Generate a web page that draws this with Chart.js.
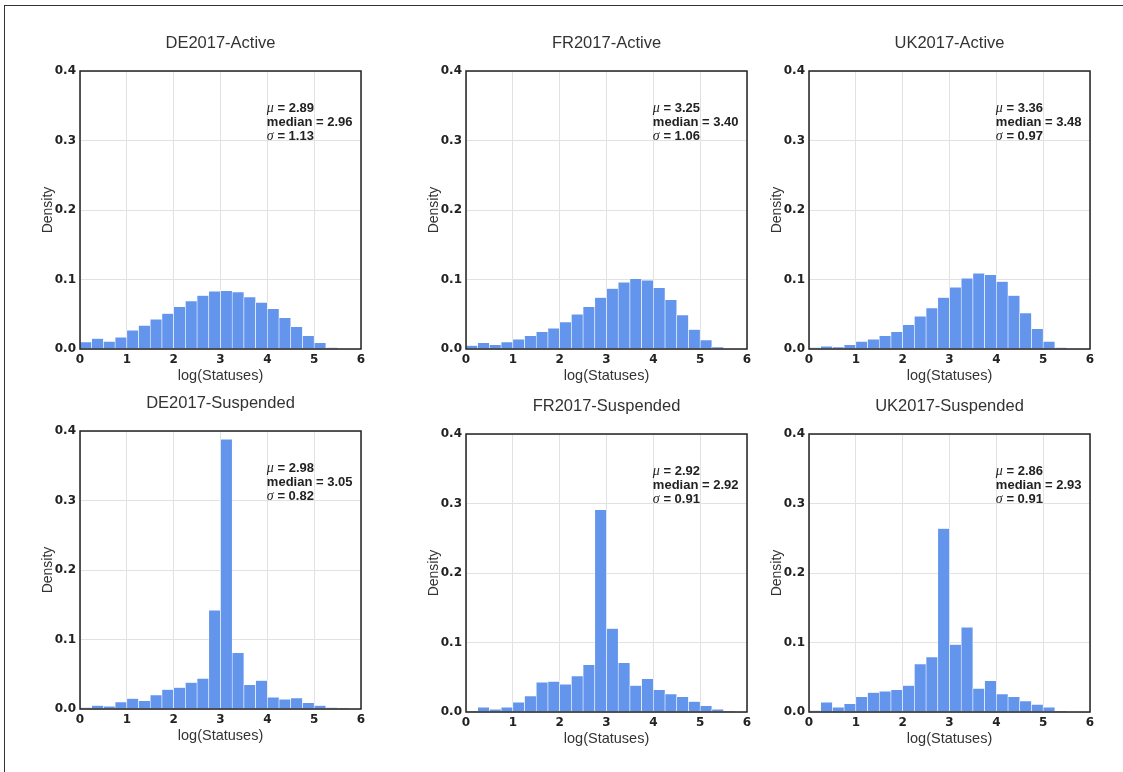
<!DOCTYPE html>
<html>
<head>
<meta charset="utf-8">
<script src="https://cdn.jsdelivr.net/npm/chart.js@4"></script>
<style>
  html, body { margin: 0; padding: 0; background: #fff; }
  body { width: 1123px; height: 772px; position: relative; overflow: hidden; }
  #frame { position: absolute; left: 4px; top: 5px; right: 0; bottom: 0;
           border-top: 1.5px solid #333; border-left: 1.5px solid #333; }
  canvas { position: absolute; }
  #deActive { left: 5px;   top: 0px; }
  #frActive { left: 391px; top: 0px; }
  #ukActive { left: 734px; top: 0px; }
  #deSusp   { left: 5px;   top: 360px; }
  #frSusp   { left: 391px; top: 363px; }
  #ukSusp   { left: 734px; top: 363px; }
</style>
</head>
<body>
<div id="frame"></div>
<canvas id="deActive" width="368" height="394"></canvas>
<canvas id="frActive" width="368" height="394"></canvas>
<canvas id="ukActive" width="368" height="394"></canvas>
<canvas id="deSusp" width="368" height="394"></canvas>
<canvas id="frSusp" width="368" height="394"></canvas>
<canvas id="ukSusp" width="368" height="394"></canvas>
<script>
// bin edges of the histograms, log(Statuses)
const binEdges = [0, 0.25, 0.5, 0.75, 1, 1.25, 1.5, 1.75, 2, 2.25, 2.5, 2.75, 3,
                  3.25, 3.5, 3.75, 4, 4.25, 4.5, 4.75, 5, 5.25, 5.5, 5.75, 6];
const xTicks = [0, 1, 2, 3, 4, 5, 6];
const yTicks = [0.0, 0.1, 0.2, 0.3, 0.4];

// densities per bin
const deActive = [0.010, 0.015, 0.011, 0.017, 0.027, 0.034, 0.043, 0.051, 0.061, 0.069, 0.077,
                  0.083, 0.084, 0.082, 0.075, 0.067, 0.058, 0.045, 0.032, 0.019, 0.009, 0.002];
const frActive = [0.005, 0.009, 0.006, 0.010, 0.014, 0.019, 0.025, 0.030, 0.039, 0.050, 0.061,
                  0.074, 0.087, 0.096, 0.101, 0.099, 0.088, 0.071, 0.049, 0.028, 0.013, 0.003];
const ukActive = [0.002, 0.004, 0.003, 0.006, 0.011, 0.014, 0.019, 0.025, 0.035, 0.047, 0.059,
                  0.074, 0.089, 0.102, 0.109, 0.107, 0.097, 0.077, 0.052, 0.029, 0.011, 0.002];
const deSusp = [0.002, 0.005, 0.004, 0.010, 0.015, 0.012, 0.020, 0.028, 0.031, 0.038, 0.044,
                0.142, 0.388, 0.081, 0.035, 0.041, 0.017, 0.014, 0.016, 0.009, 0.005, 0.002, 0.001];
const frSusp = [0.001, 0.007, 0.004, 0.007, 0.014, 0.023, 0.043, 0.044, 0.040, 0.052, 0.068,
                0.291, 0.120, 0.071, 0.038, 0.048, 0.032, 0.026, 0.022, 0.015, 0.009, 0.004, 0.001];
const ukSusp = [0.002, 0.014, 0.007, 0.012, 0.022, 0.028, 0.030, 0.032, 0.038, 0.069, 0.079,
                0.264, 0.097, 0.122, 0.034, 0.045, 0.026, 0.022, 0.016, 0.011, 0.007, 0.001];

const titles = ['DE2017-Active', 'FR2017-Active', 'UK2017-Active',
                'DE2017-Suspended', 'FR2017-Suspended', 'UK2017-Suspended'];
const muVals     = ['2.89', '3.25', '3.36', '2.98', '2.92', '2.86'];
const medianVals = ['2.96', '3.40', '3.48', '3.05', '2.92', '2.93'];
const sigmaVals  = ['1.13', '1.06', '0.97', '0.82', '0.91', '0.91'];

const SANS = '"Liberation Sans", Arial, sans-serif';

// title over the plot area, frame around it, and the stats text
const boxAndStats = {
    id: 'boxAndStats',
    afterDraw(chart, args, opts) {
        const ctx = chart.ctx;
        const a = chart.chartArea;
        ctx.save();
        ctx.strokeStyle = '#222';
        ctx.lineWidth = 1.5;
        ctx.strokeRect(a.left, a.top, a.right - a.left, a.bottom - a.top);

        ctx.fillStyle = '#333';
        ctx.textAlign = 'center';
        ctx.textBaseline = 'middle';
        ctx.font = '16.5px ' + SANS;
        ctx.fillText(opts.title, (a.left + a.right) / 2, a.top - 27.5);

        const x = a.left + 0.665 * (a.right - a.left);
        const y0 = a.top + 37.5;
        ctx.fillStyle = '#222';
        ctx.textAlign = 'left';
        const lines = [['\u03bc', ' = ' + opts.mu], ['', 'median = ' + opts.median], ['\u03c3', ' = ' + opts.sigma]];
        lines.forEach((ln, i) => {
            let cx = x;
            const cy = y0 + i * 14;
            if (ln[0]) {
                ctx.font = 'italic 14px "Liberation Serif", serif';
                ctx.fillText(ln[0], cx, cy);
                cx += ctx.measureText(ln[0]).width;
            }
            ctx.font = 'bold 13px ' + SANS;
            ctx.fillText(ln[1], cx, cy);
        });
        ctx.restore();
    }
};

function drawHist(canvasId, idx, values) {
    const points = values.map((v, i) => ({ x: (binEdges[i] + binEdges[i + 1]) / 2, y: v }));
    const ctx = document.getElementById(canvasId).getContext('2d');
    return new Chart(ctx, {
        type: 'bar',
        data: {
            datasets: [{
                data: points,
                backgroundColor: '#6495ED',
                borderColor: '#ffffff',
                borderWidth: 0.6,
                barPercentage: 1,
                categoryPercentage: 1
            }]
        },
        options: {
            responsive: false,
            animation: false,
            devicePixelRatio: 1,
            layout: { padding: { left: 0, top: 71, right: 12, bottom: 0 } },
            plugins: {
                legend: { display: false },
                tooltip: { enabled: false },
                title: { display: false },
                boxAndStats: { title: titles[idx], mu: muVals[idx], median: medianVals[idx], sigma: sigmaVals[idx] }
            },
            scales: {
                x: {
                    type: 'linear',
                    min: 0,
                    max: 6,
                    offset: false,
                    afterBuildTicks: (s) => { s.ticks = xTicks.map(v => ({ value: v })); },
                    afterFit: (s) => { s.height = 45; },
                    grid: { offset: false, color: '#e2e2e2', lineWidth: 1, drawTicks: false },
                    border: { display: false },
                    ticks: {
                        padding: 4,
                        color: '#222',
                        font: { family: '"DejaVu Sans", sans-serif', size: 12, weight: 'bold' },
                        callback: (v) => String(v)
                    },
                    title: {
                        display: true,
                        text: 'log(Statuses)',
                        color: '#333',
                        font: { family: SANS, size: 14.5 },
                        padding: { top: 0, bottom: 9 }
                    }
                },
                y: {
                    min: 0,
                    max: 0.4,
                    afterBuildTicks: (s) => { s.ticks = yTicks.map(v => ({ value: v })); },
                    afterFit: (s) => { s.width = 75; },
                    grid: { color: '#e2e2e2', lineWidth: 1, drawTicks: false },
                    border: { display: false },
                    ticks: {
                        padding: 4,
                        color: '#222',
                        font: { family: '"DejaVu Sans", sans-serif', size: 12, weight: 'bold' },
                        callback: (v) => v.toFixed(1)
                    },
                    title: {
                        display: true,
                        text: 'Density',
                        color: '#333',
                        font: { family: SANS, size: 14 },
                        padding: { top: 35, bottom: 0 }
                    }
                }
            }
        },
        plugins: [boxAndStats]
    });
}

drawHist('deActive', 0, deActive);
drawHist('frActive', 1, frActive);
drawHist('ukActive', 2, ukActive);
drawHist('deSusp', 3, deSusp);
drawHist('frSusp', 4, frSusp);
drawHist('ukSusp', 5, ukSusp);
</script>
</body>
</html>
